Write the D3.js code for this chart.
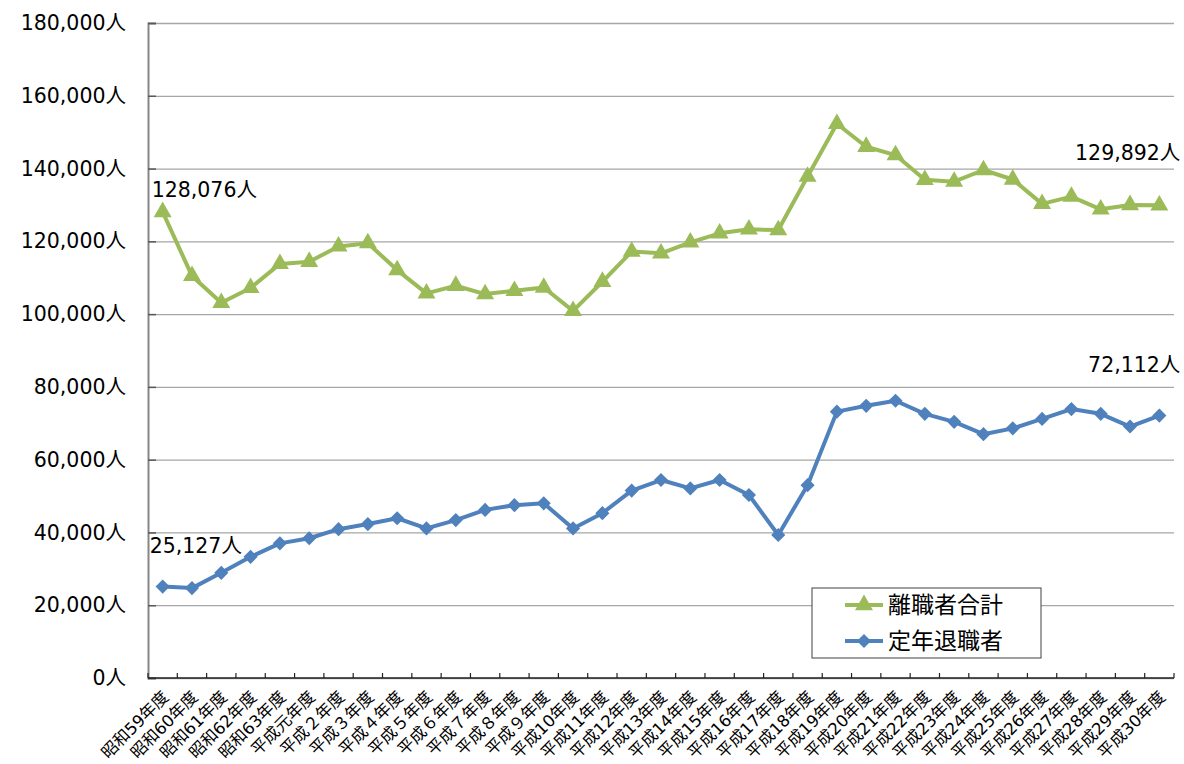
<!DOCTYPE html>
<html><head><meta charset="utf-8">
<script src="https://cdn.jsdelivr.net/npm/d3@7"></script>
<style>
html,body{margin:0;padding:0;background:#fff;}
svg{display:block;}
</style></head>
<body>
<svg id="c" width="1184" height="764"></svg>
<script>
const categories = ["昭和59年度","昭和60年度","昭和61年度","昭和62年度","昭和63年度","平成元年度","平成２年度","平成３年度","平成４年度","平成５年度","平成６年度","平成７年度","平成８年度","平成９年度","平成10年度","平成11年度","平成12年度","平成13年度","平成14年度","平成15年度","平成16年度","平成17年度","平成18年度","平成19年度","平成20年度","平成21年度","平成22年度","平成23年度","平成24年度","平成25年度","平成26年度","平成27年度","平成28年度","平成29年度","平成30年度"];
const totalSeparations = [128076,110500,103100,107200,113800,114400,118600,119500,112100,105700,107800,105500,106400,107300,100900,108900,117200,116700,119700,122200,123300,123100,137800,152300,146000,143700,136900,136400,139600,137000,130300,132300,128800,130000,129892];
const retirements = [25127,24700,28900,33300,37000,38400,40900,42300,43900,41100,43400,46200,47500,48000,41100,45300,51500,54400,52100,54400,50300,39300,53000,73200,74800,76200,72600,70400,67000,68600,71200,73900,72600,69100,72112];
const yTicks = [0,20000,40000,60000,80000,100000,120000,140000,160000,180000];
const seriesNames = ["離職者合計","定年退職者"];
const seriesColors = ["#9BBB59","#4F81BD"];

const FONT = "'DejaVu Sans','Noto Sans CJK JP',sans-serif";
const svg = d3.select("#c");
const L = 148, R = 1174, T = 23, B = 678;

const x = d3.scaleBand().domain(categories).range([L, R]).paddingInner(0).paddingOuter(0);
const cx = c => x(c) + x.bandwidth()/2;
const y = d3.scaleLinear().domain([0,180000]).range([B, T]);

// gridlines
svg.append("g").attr("transform",`translate(${L},0)`)
  .call(d3.axisLeft(y).tickValues(yTicks).tickSize(-(R-L)).tickFormat(""))
  .call(g=>g.select(".domain").remove())
  .call(g=>g.selectAll("line").attr("stroke","#a6a6a6").attr("stroke-width",1.3));

// y axis
const fmt = d3.format(",");
svg.append("g").attr("transform",`translate(${L},0)`)
  .call(d3.axisLeft(y).tickValues(yTicks).tickSize(-8).tickPadding(22).tickFormat(d=>fmt(d)+"人"))
  .call(g=>g.select(".domain").attr("stroke","#868686").attr("stroke-width",2))
  .call(g=>g.selectAll(".tick line").attr("stroke","#595959").attr("stroke-width",1.5))
  .call(g=>g.selectAll("text").attr("font-family",FONT).attr("font-size",20.5).attr("fill","#000"));

// x axis
const xg = svg.append("g");
xg.append("line").attr("x1",L).attr("x2",R).attr("y1",B).attr("y2",B).attr("stroke","#222").attr("stroke-width",1.5);
xg.selectAll("line.tk").data(categories.concat([null])).enter().append("line")
  .attr("class","tk")
  .attr("x1",(d,i)=> i<categories.length ? x(d) : R)
  .attr("x2",(d,i)=> i<categories.length ? x(d) : R)
  .attr("y1",B-5).attr("y2",B).attr("stroke","#222").attr("stroke-width",1.2);
xg.selectAll("text").data(categories).enter().append("text")
  .attr("transform",d=>`translate(${cx(d)+7},${B+20}) rotate(-45)`)
  .attr("text-anchor","end")
  .attr("font-family",FONT).attr("font-size",16.5).attr("fill","#000")
  .text(d=>d);

// series
const triangle = d3.symbol().type(d3.symbolTriangle).size(140);
const diamond = d3.symbol().type(d3.symbolSquare).size(100);
function drawSeries(vals, color, sym, rot){
  const line = d3.line().x((d,i)=>cx(categories[i])).y(d=>y(d));
  svg.append("path").datum(vals).attr("d",line).attr("fill","none")
    .attr("stroke",color).attr("stroke-width",4).attr("stroke-linejoin","round");
  svg.append("g").selectAll("path").data(vals).enter().append("path")
    .attr("d",sym())
    .attr("transform",(d,i)=>`translate(${cx(categories[i])},${y(d)}) rotate(${rot})`)
    .attr("fill",color);
}
drawSeries(totalSeparations, seriesColors[0], triangle, 0);
drawSeries(retirements, seriesColors[1], diamond, 45);

// annotations
const ann = [
  {v: totalSeparations[0], i:0, dx:-11, dy:-15, anchor:"start"},
  {v: retirements[0], i:0, dx:-13, dy:-34, anchor:"start"},
  {v: totalSeparations[34], i:34, dx:21, dy:-45, anchor:"end"},
  {v: retirements[34], i:34, dx:21, dy:-44, anchor:"end"}
];
svg.append("g").selectAll("text").data(ann).enter().append("text")
  .attr("x",d=>cx(categories[d.i])+d.dx).attr("y",d=>y(d.v)+d.dy)
  .attr("text-anchor",d=>d.anchor)
  .attr("font-family",FONT).attr("font-size",20.5).attr("fill","#000")
  .text(d=>fmt(d.v)+"人");

// legend
const lg = svg.append("g").attr("transform","translate(812,588)");
lg.append("rect").attr("x",0).attr("y",0).attr("width",229).attr("height",70)
  .attr("fill","#fff").attr("stroke","#404040").attr("stroke-width",1);
const syms = [triangle, diamond], rots=[0,45];
seriesNames.forEach((n,k)=>{
  const yy = 17 + k*36;
  lg.append("line").attr("x1",33).attr("x2",71).attr("y1",yy).attr("y2",yy)
    .attr("stroke",seriesColors[k]).attr("stroke-width",4);
  lg.append("path").attr("d",syms[k]()).attr("transform",`translate(52,${yy}) rotate(${rots[k]})`).attr("fill",seriesColors[k]);
  lg.append("text").attr("x",76).attr("y",yy+8).attr("font-family","'Noto Sans CJK JP',sans-serif")
    .attr("font-size",23).attr("fill","#000").text(n);
});
</script>
</body></html>
